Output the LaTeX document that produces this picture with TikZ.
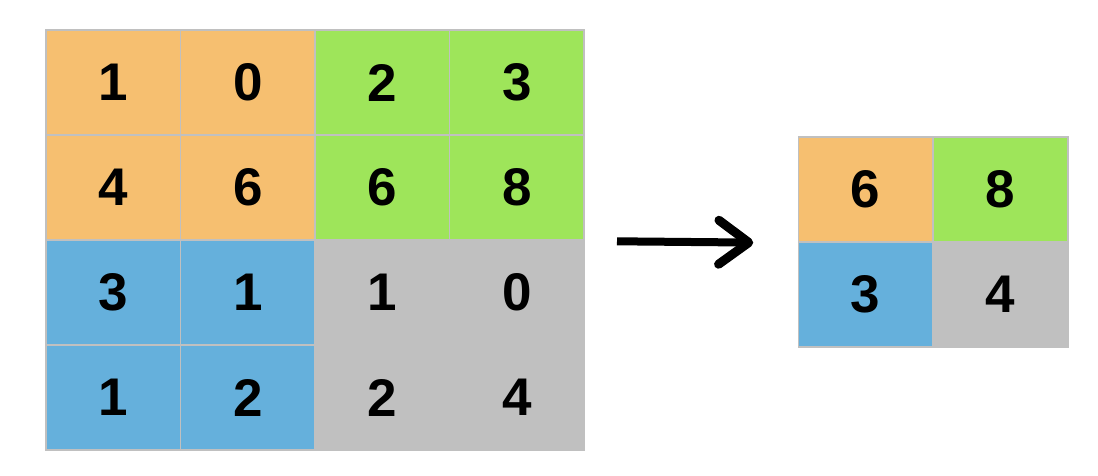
\documentclass[tikz,border=0pt]{standalone}
\usepackage{fontspec}
\setmainfont{Liberation Sans}
\usetikzlibrary{arrows.meta}
\definecolor{corange}{RGB}{246,191,112}
\definecolor{cgreen}{RGB}{158,229,90}
\definecolor{cblue}{RGB}{101,176,220}
\definecolor{cgray}{RGB}{192,192,192}
\definecolor{cline}{RGB}{192,192,192}
\begin{document}
\begin{tikzpicture}[x=1pt,y=-1pt,
  cell/.style={draw=cline, line width=1.5pt, minimum width=134.5pt, minimum height=105pt,
    inner sep=0pt, outer sep=0pt, anchor=center, font=\fontsize{53}{53}\selectfont\bfseries},
  og/.style={cell, fill=corange},
  gg/.style={cell, fill=cgreen},
  bg/.style={cell, fill=cblue},
  yg/.style={cell, fill=cgray},
  flow/.style={line width=8pt, -{Straight Barb[length=30pt, width=44pt, line width=9pt, line join=round, line cap=round]}}
]
\useasboundingbox (0,0) rectangle (1098,476);
% left grid
\node[og] (c11) at (113.25,82.5) {1};
\node[og] (c12) at (247.75,82.5) {0};
\node[gg] (c13) at (382.25,82.5) {2};
\node[gg] (c14) at (516.75,82.5) {3};
\node[og] (c21) at (113.25,187.5) {4};
\node[og] (c22) at (247.75,187.5) {6};
\node[gg] (c23) at (382.25,187.5) {6};
\node[gg] (c24) at (516.75,187.5) {8};
\node[bg] (c31) at (113.25,292.5) {3};
\node[bg] (c32) at (247.75,292.5) {1};
\node[yg] (c33) at (382.25,292.5) {1};
\node[yg] (c34) at (516.75,292.5) {0};
\node[bg] (c41) at (113.25,397.5) {1};
\node[bg] (c42) at (247.75,397.5) {2};
\node[yg] (c43) at (382.25,397.5) {2};
\node[yg] (c44) at (516.75,397.5) {4};
% right grid
\node[og] (r11) at (865.5,189.5) {6};
\node[gg] (r12) at (1000.5,189.5) {8};
\node[bg] (r21) at (865.5,294.5) {3};
\node[yg] (r22) at (1000.5,294.5) {4};
% arrow
\draw[flow, shorten <=33pt, shorten >=45pt] ([yshift=-1pt]c24.south east) -- ([yshift=-1pt]r11.south west);
\end{tikzpicture}
\end{document}
